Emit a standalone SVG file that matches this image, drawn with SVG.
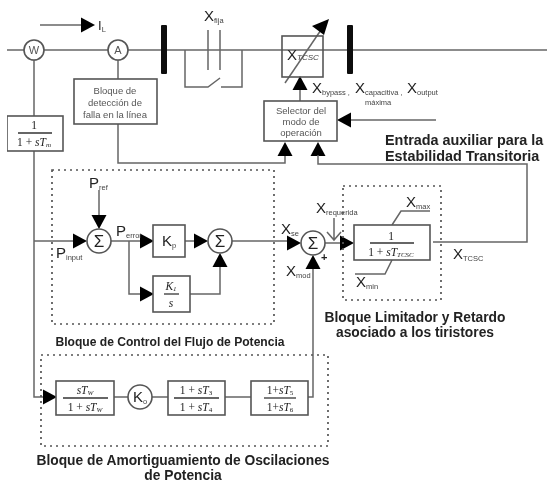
<svg xmlns="http://www.w3.org/2000/svg" width="547" height="485" viewBox="0 0 547 485">
<style>
text{font-family:"Liberation Sans",Arial,sans-serif;fill:#222}
.l{fill:none;stroke:#666;stroke-width:1.5}
.box{fill:#fff;stroke:#555;stroke-width:1.6}
.d{fill:none;stroke:#555;stroke-width:1.7;stroke-dasharray:2 4}
.bar{fill:#111}
.sym{font-size:15px}
.s{font-size:7.5px;fill:#444}
.b{font-weight:bold;font-size:12.1px;text-anchor:middle;fill:#222}
.b2{font-weight:bold;font-size:13.8px;text-anchor:middle;fill:#222}
.h{font-weight:bold;font-size:14.4px}
.t{font-size:9.5px;text-anchor:middle;fill:#555}
.f{font-family:"Liberation Serif",serif;font-size:11.5px;text-anchor:middle;fill:#222}
.fi{font-style:italic}
.fr{stroke:#333;stroke-width:1.3}
.hd{fill:#000}
</style>
<defs>
<filter id="soft" x="0" y="0" width="100%" height="100%"><feGaussianBlur stdDeviation="0.45"/></filter>
<path id="hr" class="hd" d="M0 0L-14 -7.5V7.5Z"/>
<path id="hl" class="hd" d="M0 0L14 -7.5V7.5Z"/>
<path id="hu" class="hd" d="M0 0L-7.5 14H7.5Z"/>
<path id="hd" class="hd" d="M0 0L-7.5 -14H7.5Z"/>
</defs>
<rect width="547" height="485" fill="#fff"/>
<g filter="url(#soft)">
<g id="connectors">
<path class="l" d="M7 50H547"/>
<path class="l" d="M40 25H84"/><use href="#hr" x="95" y="25"/>
<path class="l" d="M34 60V116M34 151V397H44"/>
<path class="l" d="M118 60V79M118 124V163H285V155"/>
<path class="l" d="M208 30V70M220 30V70"/>
<path class="l" d="M185 50V87H208L220 78M221 87H242V50"/>
<path class="l" d="M285 83L325 24"/>
<path class="hd" d="M329 19L324 35L312 26Z"/>
<path class="l" d="M300 101V88"/><use href="#hu" x="300" y="76"/>
<path class="l" d="M436 120H351"/><use href="#hl" x="337" y="120"/>
<use href="#hu" x="285" y="142"/>
<use href="#hu" x="318" y="142"/>
<path class="l" d="M318 155V164H527V242H433"/>
<path class="l" d="M34 241H74"/><use href="#hr" x="87" y="241"/>
<path class="l" d="M99 190V217"/><use href="#hd" x="99" y="229"/>
<path class="l" d="M111 241H141"/><use href="#hr" x="154" y="241"/>
<path class="l" d="M185 241H196"/><use href="#hr" x="208" y="241"/>
<path class="l" d="M129 241V294H141"/><use href="#hr" x="154" y="294"/>
<path class="l" d="M190 294H220V265"/><use href="#hu" x="220" y="253"/>
<path class="l" d="M232 241H288"/><use href="#hr" x="301" y="243"/>
<path class="l" d="M325 243H341"/><use href="#hr" x="354" y="243"/>
<path class="l" d="M334 218V239M327 232L334 240L341 232"/>
<path class="l" d="M392 225L401 211H430M392 260L385 274H355"/>
<path class="l" d="M313 268V397H308"/><use href="#hu" x="313" y="255"/>
<path class="l" d="M114 397H128M152 397H168M225 397H251"/>
<use href="#hr" x="57" y="397"/>
</g>
<g id="bars"><rect class="bar" x="161" y="25" width="6" height="49" rx="1"/><rect class="bar" x="347" y="25" width="6" height="49" rx="1"/></g>
<g id="limit-frames"><rect class="d" x="52" y="170" width="222" height="154"/><rect class="d" x="343" y="186" width="98" height="114"/><rect class="d" x="41" y="355" width="287" height="91"/></g>
<g id="node-w"><circle class="box" cx="34" cy="50" r="10"/><text class="t" x="34" y="54" style="font-size:11px">W</text></g>
<g id="node-a"><circle class="box" cx="118" cy="50" r="10"/><text class="t" x="118" y="54" style="font-size:11px">A</text></g>
<g id="node-tm"><rect class="box" x="7" y="116" width="56" height="35"/><text class="f" x="34" y="129">1</text><path class="fr" d="M18 133H52"/><text class="f" x="34" y="146">1 + <tspan class="fi">sT</tspan><tspan class="fi" font-size="7" dy="1">m</tspan></text></g>
<g id="node-detect"><rect class="box" x="74" y="79" width="83" height="45"/><text class="t" x="115" y="94">Bloque de</text><text class="t" x="115" y="106">detección de</text><text class="t" x="115" y="118">falla en la línea</text></g>
<g id="node-tcsc"><rect class="box" style="fill:none" x="282" y="36" width="41" height="41"/><text class="sym" x="287" y="60">X<tspan font-size="8" font-style="italic" fill="#444">TCSC</tspan></text></g>
<g id="node-selector"><rect class="box" x="264" y="101" width="73" height="40"/><text class="t" x="301" y="114">Selector del</text><text class="t" x="301" y="125">modo de</text><text class="t" x="301" y="136">operación</text></g>
<g id="node-sum1"><circle class="box" cx="99" cy="241" r="12"/><text class="sym" x="99" y="247" text-anchor="middle" style="font-size:17px">Σ</text></g>
<g id="node-kp"><rect class="box" x="153" y="225" width="32" height="32"/><text class="sym" x="162" y="246">K<tspan class="s" dy="2">p</tspan></text></g>
<g id="node-ki"><rect class="box" x="153" y="276" width="37" height="36"/><text class="f fi" x="171" y="290">K<tspan font-size="7" dy="1">1</tspan></text><path class="fr" d="M164 294H179"/><text class="f fi" x="171" y="307">s</text></g>
<g id="node-sum2"><circle class="box" cx="220" cy="241" r="12"/><text class="sym" x="220" y="247" text-anchor="middle" style="font-size:17px">Σ</text></g>
<g id="node-sum3"><circle class="box" cx="313" cy="243" r="12"/><text class="sym" x="313" y="249" text-anchor="middle" style="font-size:17px">Σ</text></g>
<g id="node-limit"><rect class="box" x="354" y="225" width="76" height="35"/><text class="f" x="391" y="240">1</text><path class="fr" d="M370 243H414"/><text class="f" x="391" y="256">1 + <tspan class="fi">sT</tspan><tspan class="fi" font-size="7" dy="1">TCSC</tspan></text></g>
<g id="node-washout"><rect class="box" x="56" y="381" width="58" height="34"/><text class="f fi" x="85" y="394">sT<tspan font-size="7" dy="1">W</tspan></text><path class="fr" d="M63 398H108"/><text class="f" x="85" y="411">1 + <tspan class="fi">sT</tspan><tspan class="fi" font-size="7" dy="1">W</tspan></text></g>
<g id="node-ko"><circle class="box" cx="140" cy="397" r="12"/><text class="sym" x="133" y="402">K<tspan class="s" dy="2">o</tspan></text></g>
<g id="node-lead1"><rect class="box" x="168" y="381" width="57" height="34"/><text class="f" x="196" y="394">1 + <tspan class="fi">sT</tspan><tspan font-size="7" dy="1">3</tspan></text><path class="fr" d="M174 398H219"/><text class="f" x="196" y="411">1 + <tspan class="fi">sT</tspan><tspan font-size="7" dy="1">4</tspan></text></g>
<g id="node-lead2"><rect class="box" x="251" y="381" width="57" height="34"/><text class="f" x="280" y="394">1+<tspan class="fi">sT</tspan><tspan font-size="7" dy="1">5</tspan></text><path class="fr" d="M264 398H296"/><text class="f" x="280" y="411">1+<tspan class="fi">sT</tspan><tspan font-size="7" dy="1">6</tspan></text></g>
<g id="labels">
<text class="sym" x="98" y="30" style="font-size:13px">I<tspan class="s" dy="2">L</tspan></text>
<text class="sym" x="204" y="21">X<tspan class="s" dy="2">fija</tspan></text>
<text class="sym" x="312" y="93">X<tspan class="s" dy="2">bypass ,</tspan></text>
<text class="sym" x="355" y="93">X<tspan class="s" dy="2">capacitiva ,</tspan></text>
<text class="s" x="365" y="105">máxima</text>
<text class="sym" x="407" y="93">X<tspan class="s" dy="2">output</tspan></text>
<text class="h" x="385" y="145">Entrada auxiliar para la</text>
<text class="h" x="385" y="161">Estabilidad Transitoria</text>
<text class="sym" x="89" y="188">P<tspan class="s" dy="2">ref</tspan></text>
<text class="sym" x="56" y="258">P<tspan class="s" dy="2">input</tspan></text>
<text class="sym" x="116" y="236">P<tspan class="s" dy="2">error</tspan></text>
<text class="sym" x="281" y="234">X<tspan class="s" dy="2">se</tspan></text>
<text class="sym" x="286" y="276">X<tspan class="s" dy="2">mod</tspan></text>
<text class="sym" x="316" y="213">X<tspan class="s" dy="2">requerida</tspan></text>
<text class="sym" x="406" y="207">X<tspan class="s" dy="2">max</tspan></text>
<text class="sym" x="356" y="287">X<tspan class="s" dy="2">min</tspan></text>
<text class="sym" x="453" y="259">X<tspan class="s" dy="2">TCSC</tspan></text>
<text class="sym" x="321" y="261" style="font-size:11px;font-weight:bold">+</text>
<text class="b" x="170" y="346">Bloque de Control del Flujo de Potencia</text>
<text class="b2" x="415" y="322">Bloque Limitador y Retardo</text>
<text class="b2" x="415" y="337">asociado a los tiristores</text>
<text class="b2" x="183" y="465">Bloque de Amortiguamiento de Oscilaciones</text>
<text class="b2" x="183" y="480">de Potencia</text>
</g>
</g>
</svg>
